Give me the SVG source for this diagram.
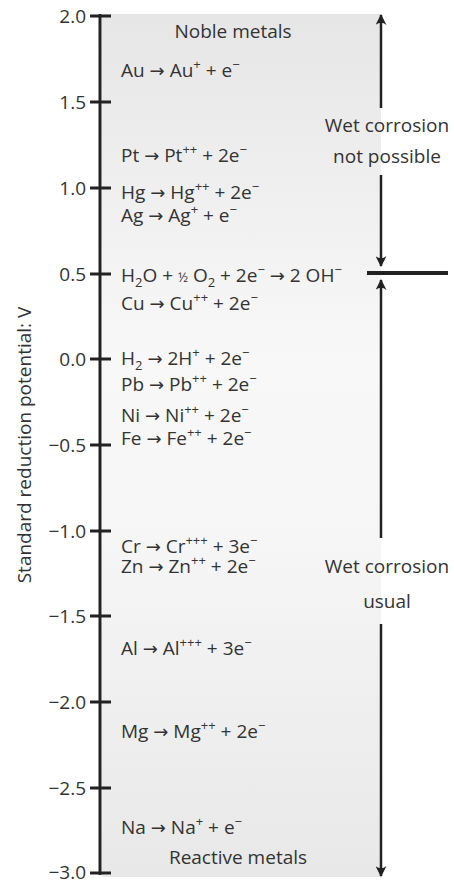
<svg xmlns="http://www.w3.org/2000/svg" width="454" height="884" viewBox="0 0 454 884">
<style>
text{font-family:"Open Sans","Liberation Sans",sans-serif;fill:#333;font-size:19px;}
.t{text-anchor:end;}
.c{text-anchor:middle;}
.sp{font-size:13px;}
.a{font-family:"DejaVu Sans",sans-serif;font-size:18px;}
.ax{stroke:#222;stroke-width:3;fill:none;}
.ar{stroke:#222;stroke-width:2.5;fill:none;}
</style>
<defs>
<linearGradient id="bg" x1="0" y1="0" x2="0" y2="1">
<stop offset="0" stop-color="#e6e6e6"/>
<stop offset="0.4" stop-color="#f8f8f8"/>
<stop offset="0.6" stop-color="#f6f6f6"/>
<stop offset="1" stop-color="#e8e8e8"/>
</linearGradient>
<marker id="ah" viewBox="0 0 10 10" refX="9" refY="5" markerWidth="5" markerHeight="4.4" orient="auto" markerUnits="strokeWidth">
<path d="M0,0 Q4,5 0,10 L10,5 Z" fill="#222"/>
</marker>
</defs>
<rect id="panel" x="102" y="14" width="279" height="863" fill="url(#bg)"/>
<g id="axis">
<line class="ax" x1="100" y1="14" x2="100" y2="875"/>
<path class="ax" d="M90,16H111M90,102H111M90,188H111M90,274H111M90,359H111M90,445H111M90,531H111M90,616H111M90,702H111M90,788H111M90,873H111"/>
<text class="t" x="86" y="23">2.0</text>
<text class="t" x="86" y="109">1.5</text>
<text class="t" x="86" y="195">1.0</text>
<text class="t" x="86" y="281">0.5</text>
<text class="t" x="86" y="366">0.0</text>
<text class="t" x="86" y="452">−0.5</text>
<text class="t" x="86" y="538">−1.0</text>
<text class="t" x="86" y="623">−1.5</text>
<text class="t" x="86" y="709">−2.0</text>
<text class="t" x="86" y="795">−2.5</text>
<text class="t" x="86" y="879">−3.0</text>
<text class="c" transform="translate(31,445) rotate(-90)">Standard reduction potential: V</text>
</g>
<g id="labels">
<text class="c" x="233" y="38">Noble metals</text>
<text class="c" x="238" y="864">Reactive metals</text>
</g>
<g id="reactions">
<text id="au" x="121" y="77">Au <tspan class="a">→</tspan> Au<tspan class="sp" dy="-8">+</tspan><tspan dy="8"> + e</tspan><tspan class="sp" dy="-8">−</tspan></text>
<text id="pt" x="121" y="162">Pt <tspan class="a">→</tspan> Pt<tspan class="sp" dy="-8">++</tspan><tspan dy="8"> + 2e</tspan><tspan class="sp" dy="-8">−</tspan></text>
<text id="hg" x="121" y="199">Hg <tspan class="a">→</tspan> Hg<tspan class="sp" dy="-8">++</tspan><tspan dy="8"> + 2e</tspan><tspan class="sp" dy="-8">−</tspan></text>
<text id="ag" x="121" y="222">Ag <tspan class="a">→</tspan> Ag<tspan class="sp" dy="-8">+</tspan><tspan dy="8"> + e</tspan><tspan class="sp" dy="-8">−</tspan></text>
<text id="h2o" x="121" y="282">H<tspan class="sp" dy="5">2</tspan><tspan dy="-5">O + </tspan><tspan class="sp">½</tspan><tspan> O</tspan><tspan class="sp" dy="5">2</tspan><tspan dy="-5"> + 2e</tspan><tspan class="sp" dy="-8">−</tspan><tspan dy="8"> </tspan><tspan class="a">→</tspan><tspan> 2 OH</tspan><tspan class="sp" dy="-8">−</tspan></text>
<text id="cu" x="121" y="310">Cu <tspan class="a">→</tspan> Cu<tspan class="sp" dy="-8">++</tspan><tspan dy="8"> + 2e</tspan><tspan class="sp" dy="-8">−</tspan></text>
<text id="h2" x="121" y="365">H<tspan class="sp" dy="5">2</tspan><tspan dy="-5"> </tspan><tspan class="a">→</tspan><tspan> 2H</tspan><tspan class="sp" dy="-8">+</tspan><tspan dy="8"> + 2e</tspan><tspan class="sp" dy="-8">−</tspan></text>
<text id="pb" x="121" y="391">Pb <tspan class="a">→</tspan> Pb<tspan class="sp" dy="-8">++</tspan><tspan dy="8"> + 2e</tspan><tspan class="sp" dy="-8">−</tspan></text>
<text id="ni" x="121" y="422">Ni <tspan class="a">→</tspan> Ni<tspan class="sp" dy="-8">++</tspan><tspan dy="8"> + 2e</tspan><tspan class="sp" dy="-8">−</tspan></text>
<text id="fe" x="121" y="445">Fe <tspan class="a">→</tspan> Fe<tspan class="sp" dy="-8">++</tspan><tspan dy="8"> + 2e</tspan><tspan class="sp" dy="-8">−</tspan></text>
<text id="cr" x="121" y="553">Cr <tspan class="a">→</tspan> Cr<tspan class="sp" dy="-8">+++</tspan><tspan dy="8"> + 3e</tspan><tspan class="sp" dy="-8">−</tspan></text>
<text id="zn" x="121" y="573">Zn <tspan class="a">→</tspan> Zn<tspan class="sp" dy="-8">++</tspan><tspan dy="8"> + 2e</tspan><tspan class="sp" dy="-8">−</tspan></text>
<text id="al" x="121" y="655">Al <tspan class="a">→</tspan> Al<tspan class="sp" dy="-8">+++</tspan><tspan dy="8"> + 3e</tspan><tspan class="sp" dy="-8">−</tspan></text>
<text id="mg" x="121" y="738">Mg <tspan class="a">→</tspan> Mg<tspan class="sp" dy="-8">++</tspan><tspan dy="8"> + 2e</tspan><tspan class="sp" dy="-8">−</tspan></text>
<text id="na" x="121" y="834">Na <tspan class="a">→</tspan> Na<tspan class="sp" dy="-8">+</tspan><tspan dy="8"> + e</tspan><tspan class="sp" dy="-8">−</tspan></text>
</g>
<g id="regions">
<text class="c" x="387" y="132">Wet corrosion</text>
<text class="c" x="387" y="163">not possible</text>
<text class="c" x="387" y="573">Wet corrosion</text>
<text class="c" x="387" y="608">usual</text>
</g>
<g id="connectors">
<line class="ar" x1="381" y1="108" x2="381" y2="15" marker-end="url(#ah)"/>
<line class="ar" x1="381" y1="175" x2="381" y2="266" marker-end="url(#ah)"/>
<line class="ar" x1="381" y1="538" x2="381" y2="280" marker-end="url(#ah)"/>
<line class="ar" x1="381" y1="624" x2="381" y2="876" marker-end="url(#ah)"/>
<line x1="367" y1="273" x2="448" y2="273" stroke="#222" stroke-width="4"/>
</g>
</svg>
